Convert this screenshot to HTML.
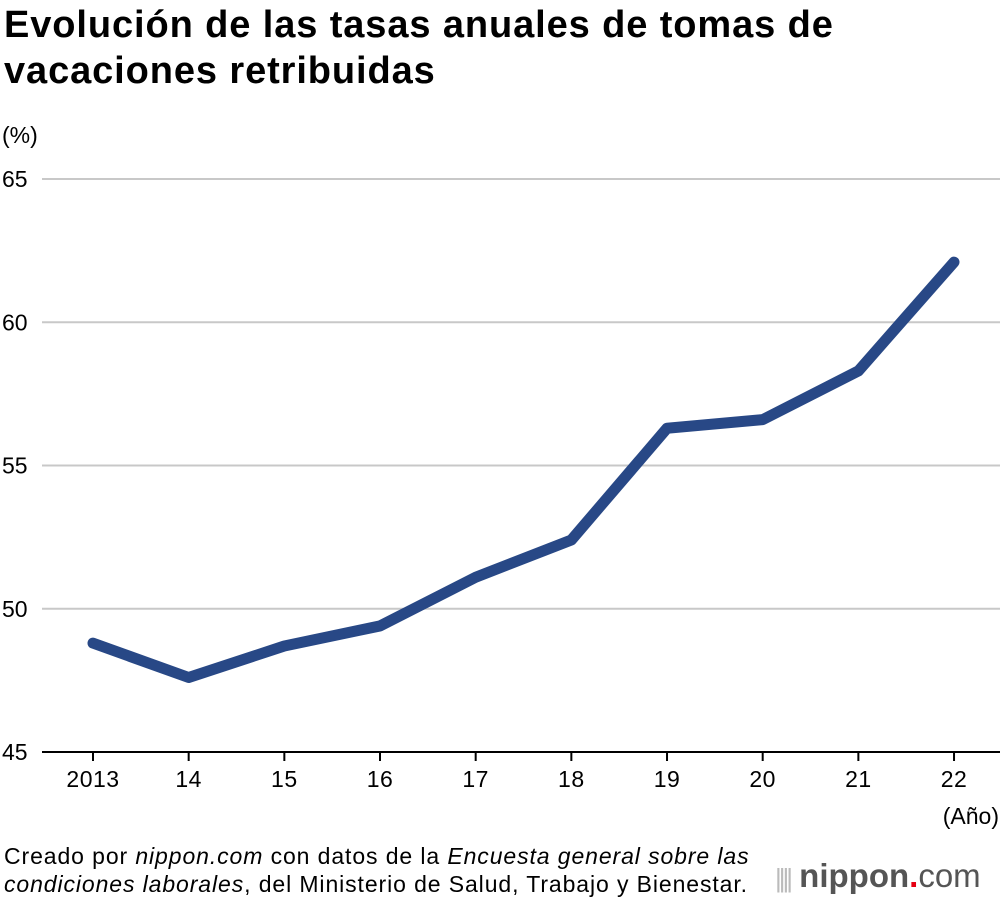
<!DOCTYPE html>
<html><head><meta charset="utf-8"><style>
body{margin:0;width:1000px;height:902px;background:#fff;font-family:"Liberation Sans",sans-serif;position:relative;overflow:hidden}
h1{position:absolute;left:4px;top:2px;margin:0;font-size:38px;line-height:46px;font-weight:bold;color:#000;letter-spacing:0.9px;white-space:nowrap}
.src{position:absolute;left:4px;top:842px;font-size:23px;line-height:28px;color:#000;letter-spacing:0.9px;white-space:nowrap}
.logo{position:absolute;left:775px;top:857px;font-size:33px;color:#555;font-weight:bold;letter-spacing:0px;white-space:nowrap}
</style></head><body>
<h1>Evolución de las tasas anuales de tomas de<br>vacaciones retribuidas</h1>
<svg id="c" width="1000" height="902" style="position:absolute;left:0;top:0"></svg>
<div class="src">Creado por <i>nippon.com</i> con datos de la <i>Encuesta general sobre las<br>condiciones laborales</i>, del Ministerio de Salud, Trabajo y Bienestar.</div>
<div class="logo"><span style="font-weight:normal;color:#bbb;font-size:26px;letter-spacing:-3px">||||</span> nippon<span style="color:#e60012">.</span><span style="font-weight:normal">com</span></div>
<script>
const years=["2013","14","15","16","17","18","19","20","21","22"];
const values=[48.8,47.6,48.7,49.4,51.1,52.4,56.3,56.6,58.3,62.1];
const yTicks=[45,50,55,60,65];
const NS="http://www.w3.org/2000/svg",svg=document.getElementById('c');
const x=i=>93+i*95.67, y=v=>752-(v-45)*28.65;
function mk(t,a){const e=document.createElementNS(NS,t);for(const k in a)e.setAttribute(k,a[k]);svg.appendChild(e);return e;}
for(const t of yTicks){
  if(t>45){const g=mk('line',{x1:42,x2:1000,y1:y(t),y2:y(t),stroke:'#c8c8c8','stroke-width':2});
  
  }
  const l=mk('text',{x:2,y:y(t)+8,'font-size':23,fill:'#000'});l.textContent=t;
  
  
}
const u=mk('text',{x:2,y:143,'font-size':23});u.textContent='(%)';


const ax=mk('line',{x1:42,x2:1000,y1:752,y2:752,stroke:'#000','stroke-width':2});


years.forEach((yr,i)=>{
  const t=mk('line',{x1:x(i),x2:x(i),y1:752,y2:761,stroke:'#000','stroke-width':2});
  
  
  const l=mk('text',{x:x(i),y:787,'font-size':23,'text-anchor':'middle','letter-spacing':0.5});l.textContent=yr;
  
  
});
const a=mk('text',{x:999,y:824,'font-size':23,'text-anchor':'end'});a.textContent='(Año)';


const p=mk('polyline',{points:values.map((v,i)=>x(i)+','+y(v)).join(' '),fill:'none',stroke:'#284886','stroke-width':11,'stroke-linecap':'round','stroke-linejoin':'round'});


</script>
</body></html>
